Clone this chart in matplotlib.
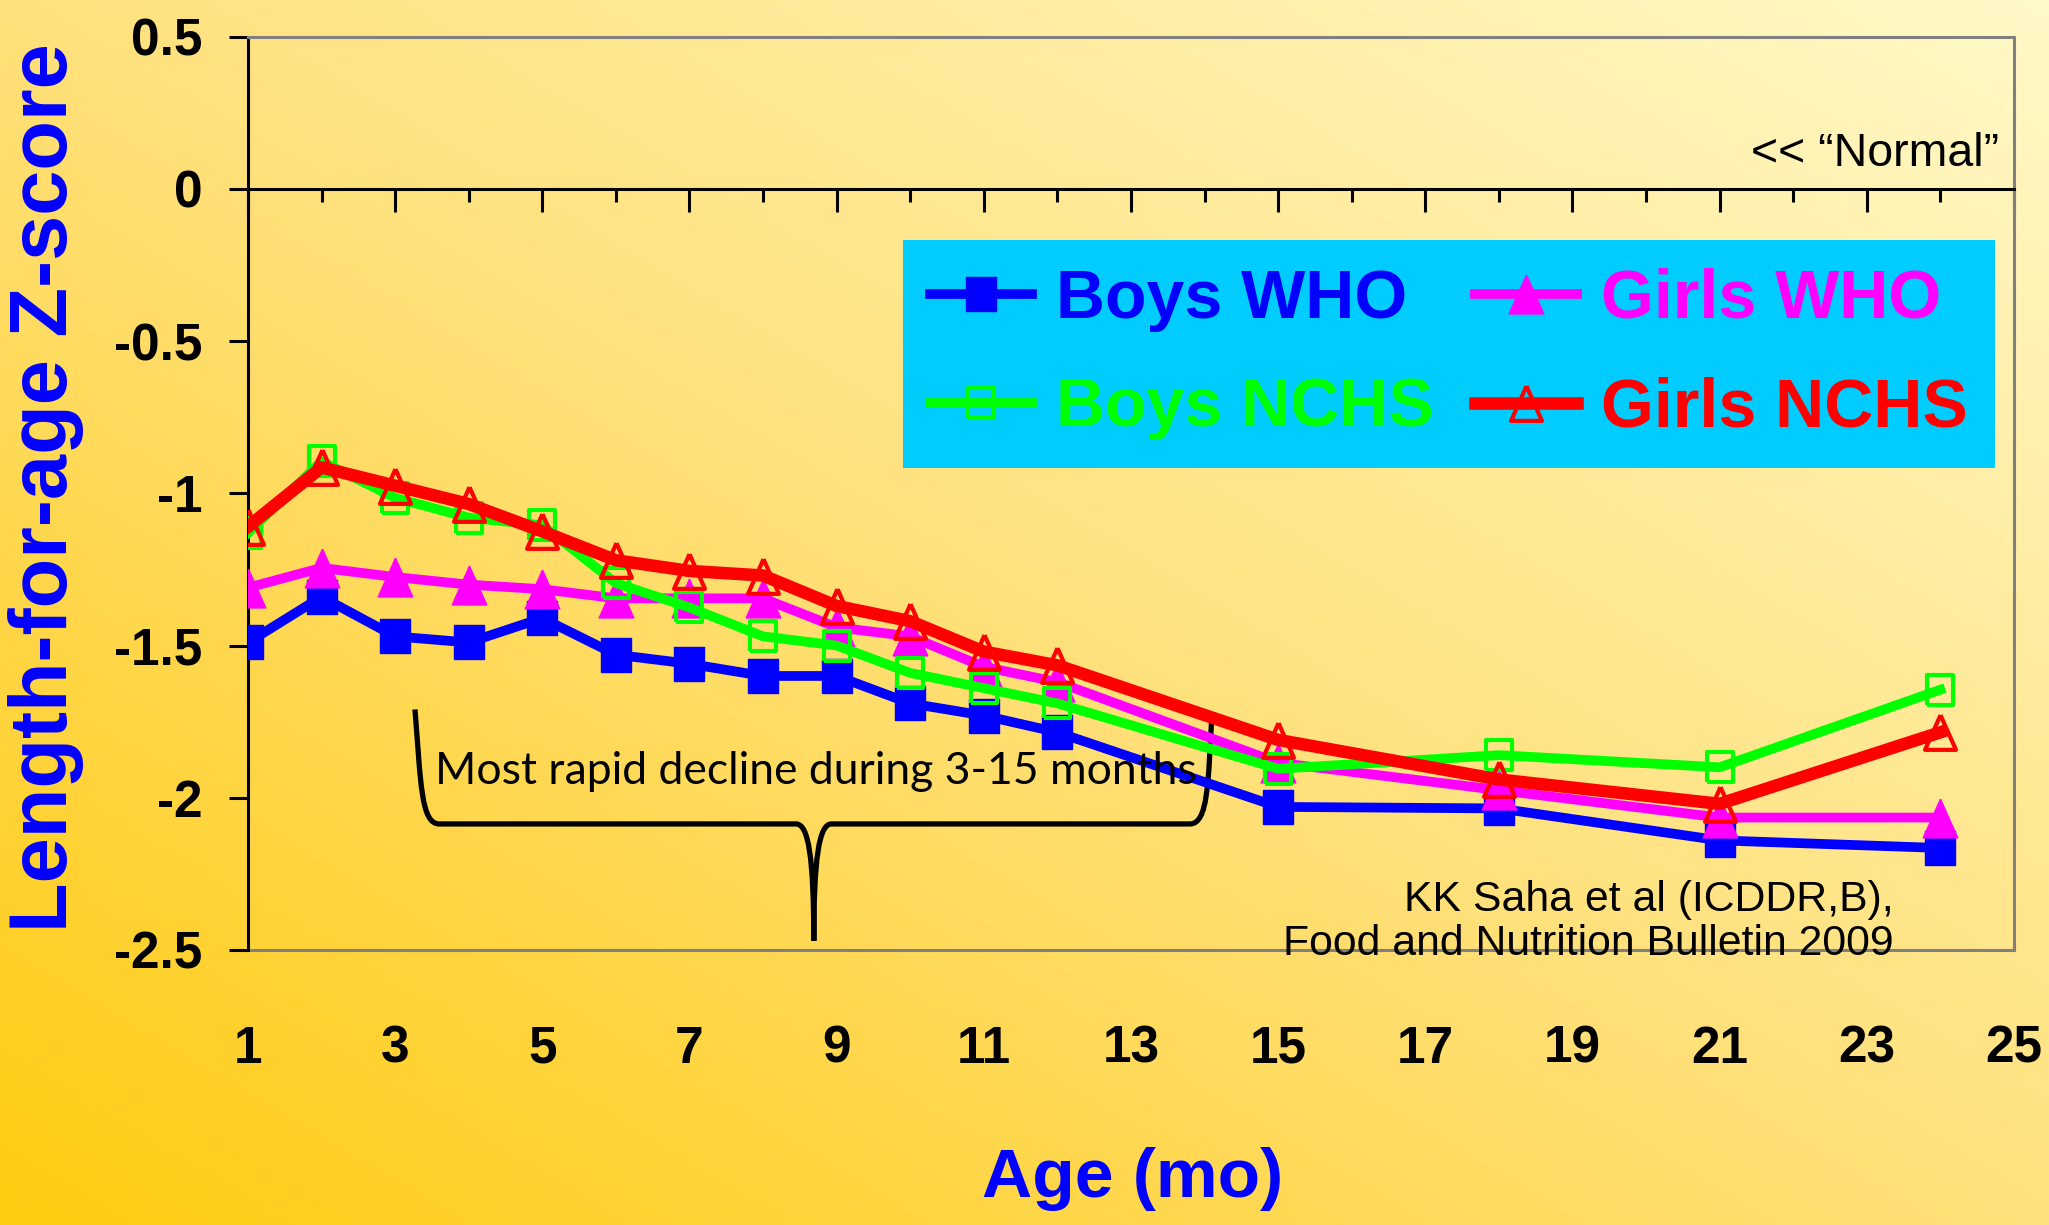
import numpy as np
import matplotlib
matplotlib.use('Agg')
import matplotlib.pyplot as plt
from matplotlib.colors import LinearSegmentedColormap
from matplotlib.path import Path
from matplotlib.patches import PathPatch

# Datos (Z-score talla/edad)
ages = [1, 2, 3, 4, 5, 6, 7, 8, 9, 10, 11, 12, 15, 18, 21, 24]
boys_who = [-1.49, -1.34, -1.47, -1.49, -1.41, -1.53, -1.56, -1.60, -1.60, -1.69, -1.73, -1.785,
            -2.03, -2.035, -2.14, -2.165]
girls_who = [-1.31, -1.245, -1.275, -1.30, -1.315, -1.345, -1.345, -1.345, -1.44, -1.47, -1.57, -1.62,
             -1.885, -1.975, -2.065, -2.065]
boys_nchs = [-1.13, -0.895, -1.015, -1.08, -1.105, -1.295, -1.375, -1.47, -1.50, -1.59, -1.64, -1.69,
             -1.905, -1.86, -1.90, -1.645]
girls_nchs = [-1.11, -0.915, -0.975, -1.035, -1.125, -1.22, -1.255, -1.27, -1.37, -1.42, -1.52, -1.565,
              -1.81, -1.94, -2.02, -1.785]

xtick_vals = [1, 3, 5, 7, 9, 11, 13, 15, 17, 19, 21, 23, 25]
xtick_labels = ['1', '3', '5', '7', '9', '11', '13', '15', '17', '19', '21', '23', '25']
xminor_vals = [2, 4, 6, 8, 10, 12, 14, 16, 18, 20, 22, 24]
ytick_vals = [0.5, 0, -0.5, -1, -1.5, -2, -2.5]
ytick_labels = ['0.5', '0', '-0.5', '-1', '-1.5', '-2', '-2.5']

# Fuente (Arial Narrow no está: se usa Liberation Sans)
ARIAL = 'Liberation Sans'

# Marcadores algo más altos que anchos (como en la imagen original)
sq_marker = [(-0.875, -1), (0.875, -1), (0.875, 1), (-0.875, 1), (-0.875, -1)]
tri_marker = [(0, 1), (-0.89, -1), (0.89, -1), (0, 1)]

fig = plt.figure(figsize=(20.49, 12.25), dpi=100)

# Fondo degradado
bg = fig.add_axes([0, 0, 1, 1], zorder=-10)
gx, gy = np.meshgrid(np.linspace(0, 1, 400), np.linspace(0, 1, 240))
bg_cmap = LinearSegmentedColormap.from_list('bg', ['#FFCB10', '#FFE17C', '#FFF9C8'])
bg.imshow((gx + gy) / 2, cmap=bg_cmap, origin='lower', extent=[0, 1, 0, 1], aspect='auto')
bg.axis('off')

ax = fig.add_axes([0.121, 0.2245, 0.8619, 0.7456])
ax.set_facecolor('none')

h_bw, = ax.plot(ages, boys_who, color='#0000FF', lw=7, marker=sq_marker, ms=24,
                mfc='#0000FF', mec='#0000FF', mew=1, label='Boys WHO', zorder=3)
h_gw, = ax.plot(ages, girls_who, color='#FF00FF', lw=7, marker=tri_marker, ms=28,
                mfc='#FF00FF', mec='#FF00FF', mew=1, label='Girls WHO', zorder=4)
h_bn, = ax.plot(ages, boys_nchs, color='#00FF00', lw=7, marker=sq_marker, ms=22,
                mfc='none', mec='#00FF00', mew=3, label='Boys NCHS', zorder=5)
h_gn, = ax.plot(ages, girls_nchs, color='#FF0000', lw=9, marker=tri_marker, ms=25,
                mfc='none', mec='#FF0000', mew=3, label='Girls NCHS', zorder=6)

ax.set_xlim(1, 25)
ax.set_ylim(-2.5, 0.5)

# Eje x en y = 0 con marcas hacia abajo
ax.spines['bottom'].set_position(('data', 0))
ax.spines['bottom'].set_linewidth(2.2)
ax.spines['left'].set_linewidth(2.2)
for s in ['top', 'right']:
    ax.spines[s].set_color('#808080')
    ax.spines[s].set_linewidth(2.2)
ax.set_xticks(xtick_vals)
ax.set_xticks(xminor_vals, minor=True)
ax.tick_params(axis='x', which='major', direction='out', length=16.5, width=2.2, labelbottom=False)
ax.tick_params(axis='x', which='minor', direction='out', length=9.5, width=2.2)

ax.set_yticks(ytick_vals, labels=ytick_labels)
ax.tick_params(axis='y', direction='out', length=13.7, width=2.2, pad=19, labelsize=37)
for lab in ax.get_yticklabels():
    lab.set_fontfamily(ARIAL)
    lab.set_fontweight('bold')

# Etiquetas del eje x abajo, en el borde gris
sec = ax.secondary_xaxis('bottom')
sec.set_xticks(xtick_vals, labels=xtick_labels)
sec.tick_params(length=0, pad=54, labelsize=37)
sec.spines['bottom'].set_color('#808080')
sec.spines['bottom'].set_linewidth(2.2)
for lab in sec.get_xticklabels():
    lab.set_fontfamily(ARIAL)
    lab.set_fontweight('bold')

fig.text(0.553, 0.0376, 'Age (mo)', ha='center', va='center', color='#0000FF',
         fontsize=50, fontweight='bold', family=ARIAL)
fig.text(0.0225, 0.6016, 'Length-for-age Z-score', ha='center', va='center', rotation=90,
         color='#0000FF', fontsize=58.5, fontweight='bold', family=ARIAL)

leg = ax.legend(handles=[h_bw, h_bn, h_gw, h_gn], ncol=2, loc='upper left',
                bbox_to_anchor=(0.371, 0.5376, 0.618, 0.2394), mode='expand', borderaxespad=0,
                prop={'family': ARIAL, 'weight': 'bold', 'size': 49}, labelcolor='linecolor',
                facecolor='#00CCFF', edgecolor='none', framealpha=1, fancybox=False,
                borderpad=0.4, labelspacing=0.66, handlelength=1.5, handletextpad=0.35)

ax.text(24.8, 0.113, '<< \u201cNormal\u201d', ha='right', va='center', fontsize=33.5, family=ARIAL)

# Llave "Most rapid decline"
brace = Path(
    [(3.27, -1.71), (3.35, -1.95), (3.35, -2.086), (3.6, -2.086),
     (8.45, -2.086),
     (8.62, -2.086), (8.69, -2.2), (8.69, -2.47),
     (8.69, -2.2), (8.76, -2.086), (8.93, -2.086),
     (13.8, -2.086),
     (14.05, -2.086), (14.05, -1.95), (14.1, -1.725)],
    [Path.MOVETO, Path.CURVE4, Path.CURVE4, Path.CURVE4,
     Path.LINETO,
     Path.CURVE4, Path.CURVE4, Path.CURVE4,
     Path.CURVE4, Path.CURVE4, Path.CURVE4,
     Path.LINETO,
     Path.CURVE4, Path.CURVE4, Path.CURVE4])
ax.add_patch(PathPatch(brace, facecolor='none', edgecolor='black', lw=3.8, zorder=2, clip_on=False))
ax.text(3.54, -1.955, 'Most rapid decline during 3-15 months', ha='left', va='baseline',
        fontsize=32, family='Lato')

ax.text(23.36, -2.515, 'KK Saha et al (ICDDR,B),\nFood and Nutrition Bulletin 2009', ha='right',
        va='baseline', multialignment='right', fontsize=30.8, family=ARIAL, linespacing=1.1)

fig.savefig('out.png', dpi=100)
